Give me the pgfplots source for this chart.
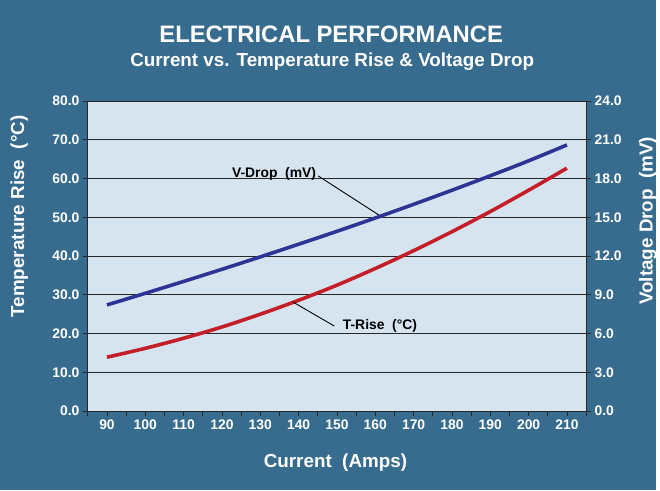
\documentclass[border=0pt]{standalone}
\usepackage{fontspec}
\setmainfont{Liberation Sans}
\usepackage{pgfplots}
\pgfplotsset{compat=1.18}
\definecolor{outerbg}{RGB}{56,108,142}
\definecolor{plotbg}{RGB}{214,228,240}
\definecolor{vblue}{RGB}{46,52,148}
\definecolor{tred}{RGB}{196,30,40}
\definecolor{gridc}{RGB}{40,40,40}
\begin{document}
\begin{tikzpicture}
\fill[outerbg] (0bp,0bp) rectangle (660bp,493bp);
\node[text=white,font=\fontsize{24}{28}\selectfont\bfseries] at (333bp,458bp) {ELECTRICAL PERFORMANCE};
\node[text=white,font=\fontsize{19}{22}\selectfont\bfseries] at (334bp,431bp) {Current vs. Temperature Rise \& Voltage Drop};
\pgfplotsset{common/.style={
  scale only axis, width=501bp, height=311.6bp, at={(88.3bp,79.7bp)}, anchor=south west,
  xmin=85, xmax=215,
  tick align=outside, major tick length=5bp, minor tick length=5bp,
  every tick/.style={gridc, line width=0.8bp},
  axis line style={gridc, line width=0.9bp},
  ticklabel style={text=white, font=\fontsize{14}{16}\selectfont\bfseries},
  /pgf/number format/assume math mode=true,
  label style={text=white, font=\fontsize{19}{22}\selectfont\bfseries},
  yticklabel style={/pgf/number format/fixed, /pgf/number format/fixed zerofill, /pgf/number format/precision=1},
}}
\begin{axis}[common,
  axis background/.style={fill=plotbg},
  ymin=0, ymax=80, ytick={0,10,...,80},
  xtick={90,100,...,210}, minor xtick={85,95,...,215},
  xtick pos=left, ytick pos=left,
  ymajorgrids, grid style={gridc, line width=0.9bp},
  xlabel={Current\ \ (Amps)},
  ylabel={Temperature Rise\ \ (°C)},
  xlabel style={at={(axis description cs:0.497,-0.167)}, anchor=center},
  ylabel style={at={(axis description cs:-0.1377,0.628)}, anchor=center},
  clip=false,
]
\addplot[tred, line width=3.6bp, smooth] coordinates {
(90,13.9) (100,16.2) (110,18.8) (120,21.7) (130,25.0) (140,28.6) (150,32.5)
(160,36.8) (170,41.4) (180,46.3) (190,51.5) (200,57.0) (210,62.7)};
\draw[black, line width=0.9bp] (axis cs:145.1,60.7) -- (axis cs:161.1,50.5);
\node[anchor=east, inner sep=0pt, font=\fontsize{14}{16}\selectfont\bfseries] at (axis cs:144.6,61.1) {V-Drop\ \ (mV)};
\draw[black, line width=0.9bp] (axis cs:149.3,21.95) -- (axis cs:138.6,28.1);
\node[anchor=west, inner sep=0pt, font=\fontsize{14}{16}\selectfont\bfseries] at (axis cs:151.5,22.0) {T-Rise\ \ (°C)};
\end{axis}
\begin{axis}[common,
  axis x line=none, axis y line*=right,
  ymin=0, ymax=24, ytick={0,3,...,24},
  ylabel={Voltage Drop\ \ (mV)},
  ylabel style={at={(axis description cs:1.124,0.614)}, anchor=center, rotate=0},
]
\addplot[vblue, line width=3.6bp, smooth] coordinates {
(90,8.22) (100,9.12) (110,10.04) (120,10.98) (130,11.94) (140,12.92) (150,13.92)
(160,14.95) (170,16.01) (180,17.10) (190,18.22) (200,19.38) (210,20.61)};
\end{axis}
\end{tikzpicture}
\end{document}
